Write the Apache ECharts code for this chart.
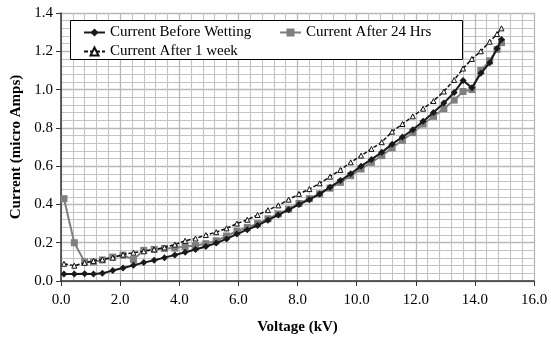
<!DOCTYPE html>
<html>
<head>
<meta charset="utf-8">
<script src="https://cdn.jsdelivr.net/npm/echarts@6/dist/echarts.min.js"></script>
<style>html,body{margin:0;padding:0;background:#fff;}#c{width:551px;height:340px;}</style>
</head>
<body>
<div id="c"></div>
<script>
var voltage = [0.1,0.45,0.8,1.1,1.4,1.75,2.1,2.45,2.8,3.15,3.5,3.85,4.2,4.55,4.9,5.25,5.6,5.95,6.3,6.65,7.0,7.35,7.7,8.05,8.4,8.75,9.1,9.45,9.8,10.15,10.5,10.85,11.2,11.55,11.9,12.25,12.6,12.95,13.3,13.6,13.9,14.2,14.5,14.75,14.9];
var beforeWetting = [0.036,0.036,0.038,0.036,0.040,0.055,0.068,0.082,0.096,0.108,0.122,0.136,0.150,0.165,0.180,0.198,0.220,0.245,0.268,0.290,0.318,0.345,0.372,0.400,0.425,0.455,0.490,0.525,0.560,0.600,0.635,0.672,0.715,0.752,0.790,0.835,0.880,0.930,0.985,1.048,1.010,1.085,1.140,1.215,1.262];
var after24Hrs = [0.43,0.20,0.10,0.10,0.11,0.125,0.135,0.112,0.16,0.165,0.17,0.172,0.18,0.185,0.195,0.21,0.235,0.26,0.28,0.30,0.325,0.35,0.375,0.405,0.43,0.455,0.485,0.515,0.55,0.585,0.62,0.655,0.695,0.735,0.775,0.82,0.86,0.90,0.945,0.99,1.00,1.10,1.15,1.21,1.245];
var after1Week = [0.09,0.08,0.095,0.105,0.112,0.122,0.138,0.148,0.155,0.165,0.175,0.19,0.21,0.222,0.24,0.255,0.275,0.30,0.32,0.345,0.37,0.395,0.425,0.455,0.48,0.51,0.545,0.58,0.62,0.655,0.69,0.725,0.78,0.82,0.86,0.90,0.94,0.99,1.05,1.11,1.16,1.20,1.25,1.29,1.32];
var seriesNames = ['Current Before Wetting','Current After 24 Hrs','Current After 1 week'];

function pairs(xs, ys){ return xs.map(function(x,i){ return [x, ys[i]]; }); }

var FONT = '"Liberation Serif","Times New Roman",serif';
var chart = echarts.init(document.getElementById('c'), null, {renderer:'canvas'});
function axisCommon() {
  return {
    axisLine: {show: true, onZero: false, lineStyle: {color: '#333', width: 1.5}},
    axisTick: {show: true, length: 5, lineStyle: {color: '#333'}},
    splitLine: {show: true, lineStyle: {color: '#b8b8b8', width: 1.3}},
    minorTick: {show: true, splitNumber: 5, length: 0},
    minorSplitLine: {show: true, lineStyle: {color: '#c4c4c4', width: 1.1}}
  };
}
var xa = axisCommon(), ya = axisCommon();
chart.setOption({
  animation: false,
  grid: {left: 61, right: 17, top: 13, bottom: 59, containLabel: false, show: false},
  graphic: [{
    type: 'rect', left: 70, top: 20, z: 100,
    shape: {width: 392, height: 39},
    style: {fill: '#fff', stroke: '#000', lineWidth: 1}
  }],
  legend: [{
    data: [seriesNames[0], seriesNames[2]],
    orient: 'vertical', left: 78, top: 20, itemGap: 4,
    itemWidth: 21, itemHeight: 10, z: 101,
    textStyle: {fontFamily: FONT, fontSize: 15, color: '#000'}
  },{
    data: [seriesNames[1]],
    orient: 'vertical', left: 274, top: 20,
    itemWidth: 21, itemHeight: 10, z: 101,
    textStyle: {fontFamily: FONT, fontSize: 15, color: '#000'}
  }],
  xAxis: Object.assign(xa, {
    type: 'value', min: 0, max: 16, interval: 2,
    name: 'Voltage (kV)', nameLocation: 'middle', nameGap: 39,
    nameTextStyle: {fontFamily: FONT, fontSize: 15, fontWeight: 'bold', color: '#000'},
    axisLabel: {fontFamily: FONT, fontSize: 15, color: '#000', margin: 12, formatter: function(v){return v.toFixed(1);}}
  }),
  yAxis: Object.assign(ya, {
    type: 'value', min: 0, max: 1.4, interval: 0.2,
    name: 'Current (micro Amps)', nameLocation: 'middle', nameGap: 36,
    nameTextStyle: {fontFamily: FONT, fontSize: 15, fontWeight: 'bold', color: '#000'},
    axisLabel: {fontFamily: FONT, fontSize: 15, color: '#000', margin: 8, formatter: function(v){return v.toFixed(1);}}
  }),
  series: [{
    name: seriesNames[0], type: 'line', data: pairs(voltage, beforeWetting),
    symbol: 'diamond', symbolSize: 7, z: 3,
    lineStyle: {color: '#1a1a1a', width: 2},
    itemStyle: {color: '#1a1a1a'}
  },{
    name: seriesNames[1], type: 'line', data: pairs(voltage, after24Hrs),
    symbol: 'rect', symbolSize: 7, z: 2,
    lineStyle: {color: '#7f7f7f', width: 2},
    itemStyle: {color: '#7f7f7f'}
  },{
    name: seriesNames[2], type: 'line', data: pairs(voltage, after1Week),
    symbol: 'triangle', symbolSize: 5, z: 4,
    lineStyle: {color: '#111', width: 1.5, type: [4, 2]},
    itemStyle: {color: '#fff', borderColor: '#111', borderWidth: 1}
  }]
});
</script>
</body>
</html>
